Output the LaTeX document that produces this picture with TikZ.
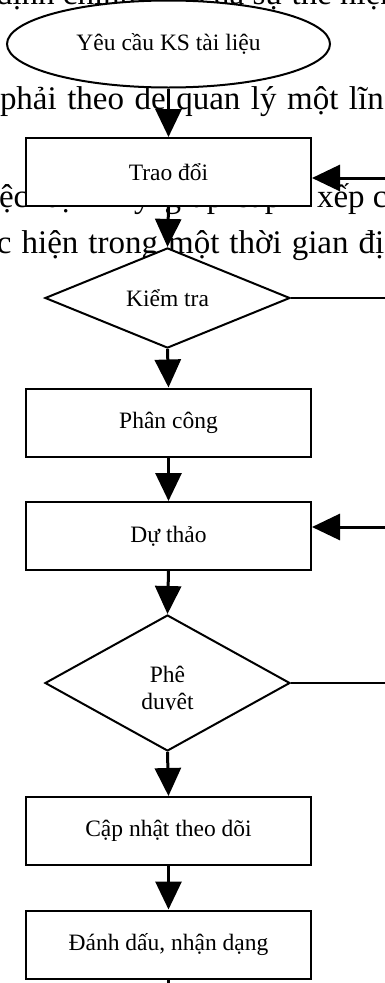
\documentclass[tikz,border=0pt]{standalone}
\usepackage{fontspec}
\setmainfont{Liberation Serif}
\usetikzlibrary{shapes.geometric,arrows.meta}
\begin{document}
\begin{tikzpicture}[x=1pt,y=-1pt,
  every node/.style={font=\fontsize{23.5}{27}\selectfont},
  bodytext/.style={anchor=base west,inner sep=0pt,outer sep=0pt,font=\fontsize{33}{40}\selectfont},
  procbox/.style={draw,line width=2pt,fill=white,minimum width=285pt,minimum height=68pt,inner sep=0pt},
  decision/.style={draw,diamond,line width=2pt,fill=white,minimum width=245pt,inner sep=0pt},
  startnode/.style={draw,ellipse,line width=2pt,fill=white,minimum width=323pt,minimum height=87pt,inner sep=0pt},
  flow/.style={line width=3pt,-{Triangle[length=28pt,width=26pt]}},
  plainline/.style={line width=2.5pt}
]
\useasboundingbox (0,0) rectangle (385,983);
% background body text
\node[bodytext] (tA) at (-4,4) {định chính xác của sự thể hiện};
\node[bodytext] (tB) at (0,109) {\spaceskip=10.5pt\relax phải theo de quan lý một lĩn};
\node[bodytext] (tD1) at (-1,207) {ệc};
\node[bodytext] (tD2) at (45,207) {\spaceskip=14pt\relax định kỳ giúp sắp};
\node[bodytext] (tD3) at (317,207) {xếp c};
\node[bodytext] (tE) at (-3,253) {\spaceskip=10pt\relax c hiện trong một thời gian đị};
% flowchart
\node[startnode] (start) at (168.5,44) {Yêu cầu KS tài liệu};
\node[procbox] (trao) at (168.5,172) {Trao đổi};
\node[decision,minimum height=90pt] (kt) at (167.5,298) {Kiểm tra};
\node[procbox] (pc) at (168.5,422.5) {Phân công};
\node[procbox] (dt) at (168.5,536) {Dự thảo};
\node[decision,minimum height=136pt] (pd) at (167.5,683) {};
\begin{scope}
  \clip (40,600) rectangle (300,709);
  \node[align=center,inner sep=0pt] (pdtext) at (167.5,690) {Phê\\duyệt};
\end{scope}
\node[procbox] (cn) at (168.5,831) {Cập nhật theo dõi};
\node[procbox] (dd) at (168.5,944.5) {Đánh dấu, nhận dạng};
% connectors
\draw[flow] (start.south) -- (trao.north);
\draw[flow] (trao.south) -- (kt.north);
\draw[flow] (kt.south) -- (pc.north);
\draw[flow] (pc.south) -- (dt.north);
\draw[flow] (dt.south) -- (pd.north);
\draw[flow] (pd.south) -- (cn.north);
\draw[flow] (cn.south) -- (dd.north);
\coordinate (endB) at (168.5,995);
\draw[plainline] (dd.south) -- (endB);
\coordinate (r1) at (395,178);
\draw[flow] (r1) -- (trao.east |- r1);
\coordinate (r2) at (395,298);
\draw[plainline] (kt.east) -- (r2);
\coordinate (r3) at (395,527);
\draw[flow] (r3) -- (dt.east |- r3);
\coordinate (r4) at (395,683);
\draw[plainline] (pd.east) -- (r4);
\end{tikzpicture}
\end{document}
